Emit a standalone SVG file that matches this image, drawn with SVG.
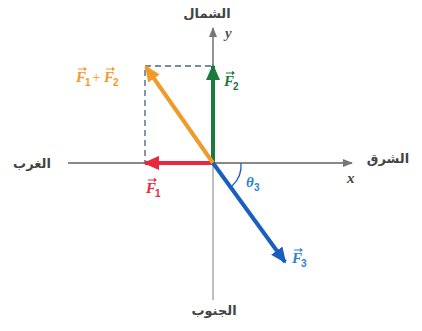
<svg xmlns="http://www.w3.org/2000/svg" width="422" height="331" viewBox="0 0 422 331">
<style>
.ar{font-family:"DejaVu Sans","Noto Sans",sans-serif;font-size:13px;font-weight:bold;fill:#444}
.it{font-family:"Liberation Serif",serif;font-style:italic;font-weight:bold;font-size:15px}
.sub{font-family:"Liberation Sans",sans-serif;font-size:10px;font-weight:bold}
.vec{fill:none;stroke-width:1.1}
.dash{stroke:#7a8aa0;stroke-width:1.8;stroke-dasharray:6,4;fill:none}
</style>
<defs>
<marker id="ga" markerWidth="10" markerHeight="8" refX="9" refY="4" orient="auto" markerUnits="userSpaceOnUse"><path d="M0,0 L10,4 L0,8 z" fill="#777"/></marker>
<marker id="mg" markerWidth="16" markerHeight="14" refX="14" refY="7" orient="auto" markerUnits="userSpaceOnUse"><path d="M0,0 L16,7 L0,14 z" fill="#1b7a3e"/></marker>
<marker id="mr" markerWidth="16" markerHeight="14" refX="14" refY="7" orient="auto" markerUnits="userSpaceOnUse"><path d="M0,0 L16,7 L0,14 z" fill="#e8283c"/></marker>
<marker id="mo" markerWidth="16" markerHeight="14" refX="14" refY="7" orient="auto" markerUnits="userSpaceOnUse"><path d="M0,0 L16,7 L0,14 z" fill="#f09a2a"/></marker>
<marker id="mb" markerWidth="16" markerHeight="14" refX="14" refY="7" orient="auto" markerUnits="userSpaceOnUse"><path d="M0,0 L16,7 L0,14 z" fill="#1a5fc0"/></marker>
</defs>
<g id="axes">
<line x1="68" y1="163" x2="352" y2="163" stroke="#888" stroke-width="1.8" marker-end="url(#ga)"/>
<line x1="213" y1="163" x2="213" y2="28" stroke="#888" stroke-width="1.8" marker-end="url(#ga)"/>
<line x1="213" y1="163" x2="213" y2="300" stroke="#aaa" stroke-width="1.5"/>
</g>
<g id="connectors">
<path class="dash" d="M145,66 H213"/>
<path class="dash" d="M145,70 V163"/>
<line x1="213" y1="163" x2="213" y2="66" stroke="#1b7a3e" stroke-width="4" marker-end="url(#mg)"/>
<line x1="213" y1="163" x2="145" y2="163" stroke="#e8283c" stroke-width="4" marker-end="url(#mr)"/>
<line x1="213" y1="163" x2="146" y2="67" stroke="#f09a2a" stroke-width="4" marker-end="url(#mo)"/>
<line x1="213" y1="163" x2="285" y2="262" stroke="#1a5fc0" stroke-width="4" marker-end="url(#mb)"/>
<path d="M241,163 A28,28 0 0 1 232,186" fill="none" stroke="#1a5fc0" stroke-width="1.3"/>
</g>
<g id="labels">
<text class="ar" x="207" y="18" text-anchor="middle">الشمال</text>
<text class="it" x="225" y="38" fill="#555">y</text>
<text class="ar" x="32" y="168" text-anchor="middle">الغرب</text>
<text class="ar" x="388" y="163" text-anchor="middle">الشرق</text>
<text class="it" x="347" y="183" fill="#444">x</text>
<text class="ar" x="214" y="315" text-anchor="middle">الجنوب</text>
<g fill="#e8283c" stroke="#e8283c"><text class="it" x="146" y="193" stroke="none">F</text><text class="sub" x="155" y="197" stroke="none">1</text><path class="vec" d="M148,180 H156 M154,178.5 L156,180 L154,181.5"/></g>
<g fill="#1b7a3e" stroke="#1b7a3e"><text class="it" x="224" y="86" stroke="none">F</text><text class="sub" x="233" y="90" stroke="none">2</text><path class="vec" d="M226,73 H234 M232,71.5 L234,73 L232,74.5"/></g>
<g fill="#f09a2a" stroke="#f09a2a"><text class="it" x="76" y="82" stroke="none">F</text><text class="sub" x="85" y="86" stroke="none">1</text><text class="it" x="92" y="82" stroke="none" style="font-style:normal;font-weight:normal">+</text><text class="it" x="104" y="82" stroke="none">F</text><text class="sub" x="113" y="86" stroke="none">2</text><path class="vec" d="M78,69 H86 M84,67.5 L86,69 L84,70.5 M106,69 H114 M112,67.5 L114,69 L112,70.5"/></g>
<g fill="#2a86d0" stroke="#2a86d0"><text class="it" x="292" y="263" stroke="none">F</text><text class="sub" x="301" y="267" stroke="none">3</text><path class="vec" d="M294,250 H302 M300,248.5 L302,250 L300,251.5"/></g>
<g fill="#2a86d0"><text class="it" x="246" y="187">θ</text><text class="sub" x="254" y="191">3</text></g>
</g>
</svg>
